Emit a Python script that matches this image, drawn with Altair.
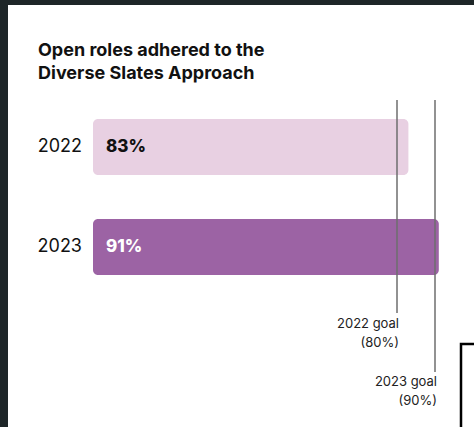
import altair as alt
import pandas as pd

years = ["2022", "2023"]
values = [83, 91]
value_labels = ["83%", "91%"]
bar_colors = ["#e8d0e2", "#9c63a4"]
label_colors = ["#111111", "#ffffff"]
goal_years = ["2022", "2023"]
goals = [80, 90]
goal_texts = [["2022 goal", "(80%)"], ["2023 goal", "(90%)"]]
title_lines = ["Open roles adhered to the", "Diverse Slates Approach"]

bars_df = pd.DataFrame({"year": years, "value": values, "label": value_labels,
                        "bar_color": bar_colors, "label_color": label_colors})

FONT = "Inter"
xscale = alt.Scale(domain=[0, 100], range=[85, 465])
yscale = alt.Scale(domain=years, range=[114, 270], paddingInner=0.44, paddingOuter=0)

base = alt.Chart(bars_df)

bars = base.mark_bar(cornerRadius=5).encode(
    x=alt.X("value:Q", scale=xscale, axis=None),
    x2=alt.datum(0),
    y=alt.Y("year:N", scale=yscale, axis=None),
    color=alt.Color("bar_color:N", scale=None, legend=None),
)

value_text = base.mark_text(align="left", baseline="middle", dx=13, font=FONT, fontSize=17, fontWeight=800).encode(
    x=alt.datum(0),
    y=alt.Y("year:N", scale=yscale, axis=None),
    text="label:N",
    color=alt.Color("label_color:N", scale=None, legend=None),
)

year_text = base.mark_text(align="right", baseline="middle", font=FONT, fontSize=18, color="#111111").encode(
    x=alt.value(74),
    y=alt.Y("year:N", scale=yscale, axis=None),
    text="year:N",
)

layers = [bars, value_text, year_text]

rule_ends = [308, 367]
label_ys = [323, 381]
for gy, g, gt, re_, ly in zip(goal_years, goals, goal_texts, rule_ends, label_ys):
    gdf = pd.DataFrame({"goal": [g], "year": [gy]})
    layers.append(
        alt.Chart(gdf).mark_rule(color="#6e6e6e", strokeWidth=1.5).encode(
            x=alt.X("goal:Q", scale=xscale),
            y=alt.value(95),
            y2=alt.value(re_),
        )
    )
    layers.append(
        alt.Chart(gdf).mark_text(align="right", baseline="alphabetic", dx=2, font=FONT, fontSize=13,
                                 lineHeight=19, color="#222222", text=gt).encode(
            x=alt.X("goal:Q", scale=xscale),
            y=alt.value(ly),
        )
    )

title = alt.Chart(pd.DataFrame({"t": [0]})).mark_text(
    align="left", baseline="alphabetic", font=FONT, fontSize=18, fontWeight="bold",
    lineHeight=23, color="#111111", text=title_lines,
).encode(x=alt.value(30), y=alt.value(51))
layers.append(title)

box = alt.Chart(pd.DataFrame({"a": [0]})).mark_rect(fill=None, stroke="#000000", strokeWidth=2.5).encode(
    x=alt.value(453), x2=alt.value(490), y=alt.value(339), y2=alt.value(450)
)
layers.append(box)

chart = alt.layer(*layers).properties(
    width=466, height=422,
    autosize=alt.AutoSizeParams(type="none"),
    padding={"left": 8, "top": 5, "right": 0, "bottom": 0},
    background="#1e2628",
).configure_view(fill="#ffffff", strokeWidth=0)

chart.save("out.html", embed_options={"renderer": "svg", "actions": False})
